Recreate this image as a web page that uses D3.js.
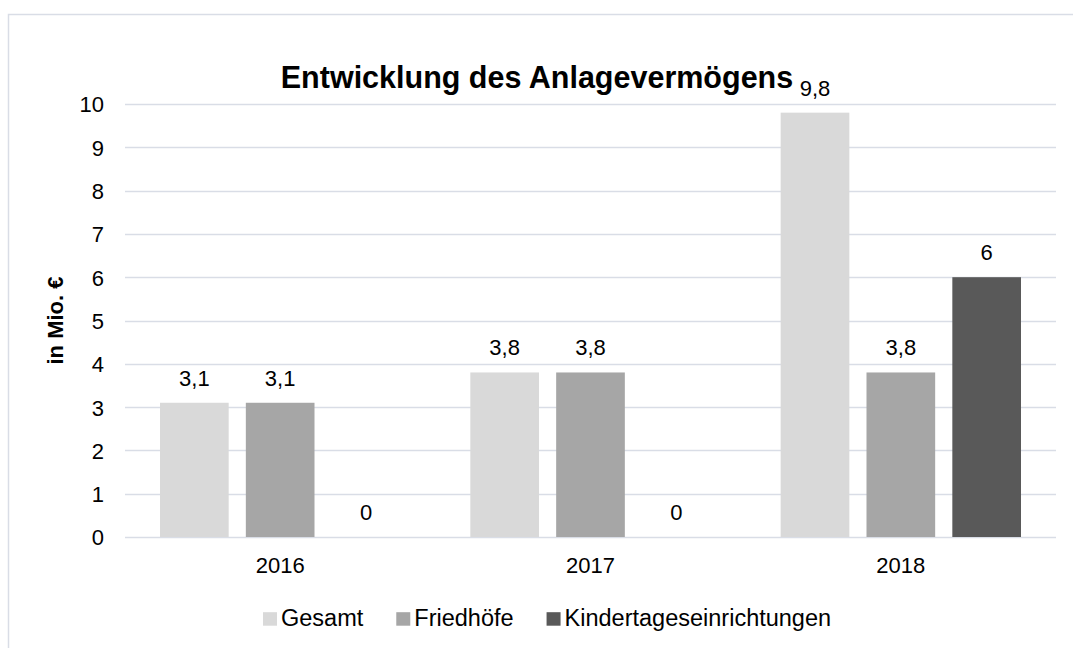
<!DOCTYPE html>
<html><head><meta charset="utf-8">
<script src="https://cdn.jsdelivr.net/npm/d3@7/dist/d3.min.js"></script>
<style>
html,body{margin:0;padding:0;background:#fff;overflow:hidden}
text{font-family:"Liberation Sans",Arial,sans-serif;fill:#000}
</style></head><body>
<svg id="chart" width="1073" height="648"></svg>
<script>
const title = "Entwicklung des Anlagevermögens";
const yTitle = "in Mio. €";
const categories = ["2016", "2017", "2018"];
const seriesNames = ["Gesamt", "Friedhöfe", "Kindertageseinrichtungen"];
const gesamt = [3.1, 3.8, 9.8];
const friedhoefe = [3.1, 3.8, 3.8];
const kita = [0, 0, 6];
const yTicks = [0,1,2,3,4,5,6,7,8,9,10];
const colors = ["#d9d9d9", "#a6a6a6", "#595959"];

const series = [gesamt, friedhoefe, kita];
const svg = d3.select("#chart");
const pLeft = 125, pRight = 1056, pTop = 104, pBottom = 537;
const FS = 22;
const LFS = 23.5;

// frame
svg.append("rect").attr("x",8.5).attr("y",14.5).attr("width",1100).attr("height",700)
  .attr("fill","none").attr("stroke","#d9dde6").attr("stroke-width",1.5);

const x0 = d3.scaleBand().domain(categories).range([pLeft,pRight]).padding(0);
const x1 = d3.scaleBand().domain(seriesNames).range([35, x0.bandwidth()-35]).paddingInner(0.2);
const y = d3.scaleLinear().domain([0,10]).range([pBottom,pTop]);

// grid
svg.append("g").selectAll("line").data(yTicks).join("line")
  .attr("x1",pLeft).attr("x2",pRight)
  .attr("y1",d=>Math.round(y(d))+0.5).attr("y2",d=>Math.round(y(d))+0.5)
  .attr("stroke","#d9dde6").attr("stroke-width",1.3);

// y axis labels
const yAxis = d3.axisLeft(y).tickValues(yTicks).tickSize(0).tickPadding(0).tickFormat(d=>d);
const ga = svg.append("g").attr("transform",`translate(${pLeft-21},0)`).call(yAxis);
ga.select(".domain").remove();
ga.selectAll("text").attr("font-size",FS).attr("font-family","Liberation Sans, Arial, sans-serif").attr("fill","#000").attr("dy","0.36em");

// x axis labels
const xAxis = d3.axisBottom(x0).tickSize(0).tickPadding(0);
const gx = svg.append("g").attr("transform",`translate(0,${pBottom+28.5})`).call(xAxis);
gx.select(".domain").remove();
gx.selectAll("text").attr("font-size",FS).attr("font-family","Liberation Sans, Arial, sans-serif").attr("fill","#000").attr("dy","0.36em");

// bars
const flat = [];
categories.forEach((c,i)=>seriesNames.forEach((s,j)=>flat.push({c,s,j,v:series[j][i]})));
svg.append("g").selectAll("rect").data(flat.filter(d=>d.v>0)).join("rect")
  .attr("x",d=>x0(d.c)+x1(d.s)).attr("width",x1.bandwidth())
  .attr("y",d=>y(d.v)).attr("height",d=>y(0)-y(d.v))
  .attr("fill",d=>colors[d.j]);

// labels
svg.append("g").selectAll("text").data(flat).join("text")
  .attr("x",d=>x0(d.c)+x1(d.s)+x1.bandwidth()/2)
  .attr("y",d=>y(d.v)-17)
  .attr("text-anchor","middle").attr("font-size",FS)
  .text(d=>String(d.v).replace(".",","));

// title
svg.append("text").attr("x",537).attr("y",88).attr("text-anchor","middle")
  .attr("font-size",30.5).attr("font-weight","bold").text(title);

// y title
svg.append("text").attr("transform","translate(55,320.5) rotate(-90)")
  .attr("text-anchor","middle").attr("dy","0.36em").attr("font-size",FS).attr("font-weight","bold").text(yTitle);

// legend
const lg = svg.append("g");
let lx = 0;
seriesNames.forEach((s,j)=>{
  const g = lg.append("g").attr("transform",`translate(${lx},0)`);
  g.append("rect").attr("x",0).attr("y",-13.5).attr("width",14).attr("height",13.5).attr("fill",colors[j]);
  const t = g.append("text").attr("x",18).attr("y",0).attr("font-size",LFS).text(s);
  lx += 18 + t.node().getComputedTextLength() + 33;
});
lg.attr("transform",`translate(${263},625.7)`);
</script></body></html>
